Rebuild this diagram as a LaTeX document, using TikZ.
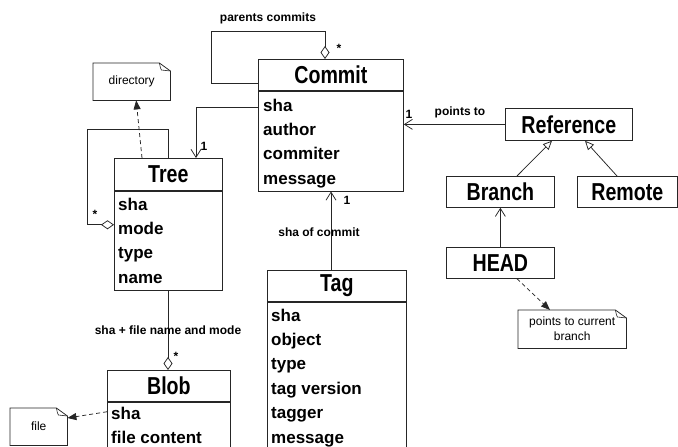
\documentclass[tikz,border=0pt]{standalone}
\usepackage{fontspec}
\setmainfont{Liberation Sans}
\newfontfamily\condfont{Liberation Sans}[FakeStretch=0.8]
\usetikzlibrary{arrows.meta,calc}
\tikzset{
  ln/.style={line width=0.75pt, draw=black!85},
  hdr/.style={ln, draw, inner sep=0pt, minimum height=31pt, anchor=north west,
    font=\condfont\bfseries\fontsize{24.5}{26}\selectfont},
  attrbox/.style={ln, draw, inner sep=0pt, anchor=north},
  attrtxt/.style={inner sep=0pt, align=left, anchor=north west,
    font=\bfseries\fontsize{17}{24.4}\selectfont},
  notetxt/.style={inner sep=0pt, anchor=north west, align=center,
    font=\fontsize{12}{15}\selectfont},
  lbl/.style={inner sep=0pt, font=\bfseries\fontsize{12}{14}\selectfont},
  openv/.style={ln, -{Straight Barb[length=8pt,width=10pt,line width=0.75pt]}},
  opentri/.style={ln, -{Triangle[open,length=9pt,width=8pt,line width=0.75pt]}},
  diamstart/.style={ln, {Diamond[open,length=13pt,width=9pt,line width=0.75pt]}-},
  diamend/.style={ln, -{Diamond[open,length=13pt,width=9pt,line width=0.75pt]}},
  dasharrow/.style={ln, dash pattern=on 4pt off 3pt, -{Triangle[length=9pt,width=7pt]}},
}
\begin{document}
\begin{tikzpicture}[x=1pt,y=-1pt]
\clip (0,0) rectangle (678,447);
\fill[white] (0,0) rectangle (678,447);

% ---- Commit
\node[hdr, minimum width=145pt] (commit) at (258,59) {Commit};
\node[attrbox, minimum width=145pt, minimum height=100pt] (commitA) at (commit.south) {};
\node[attrtxt] (commitT) at ([xshift=5pt,yshift=-3pt]commitA.north west)
  {\strut sha\\author\\commiter\\message};

% ---- Tree
\node[hdr, minimum width=108pt, minimum height=32pt] (tree) at (114,158) {Tree};
\node[attrbox, minimum width=108pt, minimum height=99pt] (treeA) at (tree.south) {};
\node[attrtxt] (treeT) at ([xshift=4pt,yshift=-2pt]treeA.north west)
  {\strut sha\\mode\\type\\name};

% ---- Blob
\node[hdr, minimum width=123pt] (blob) at (107,370) {Blob};
\node[attrbox, minimum width=123pt, minimum height=70pt] (blobA) at (blob.south) {};
\node[attrtxt] (blobT) at ([xshift=4pt,yshift=-0.5pt]blobA.north west)
  {\strut sha\\file content};

% ---- Tag
\node[hdr, minimum width=139pt] (tag) at (267,270) {Tag};
\node[attrbox, minimum width=139pt, minimum height=170pt] (tagA) at (tag.south) {};
\node[attrtxt] (tagT) at ([xshift=4pt,yshift=-2pt]tagA.north west)
  {\strut sha\\object\\type\\tag version\\tagger\\message};

% ---- References
\node[hdr, minimum width=127pt, minimum height=32pt] (ref) at (505,108) {Reference};
\node[hdr, minimum width=108pt] (branch) at (446,176) {Branch};
\node[hdr, minimum width=100pt] (remote) at (577,176) {Remote};
\node[hdr, minimum width=108pt] (head) at (446,247) {HEAD};

% ---- Notes
\node[notetxt, minimum width=77pt, minimum height=37pt] (dir) at (93,63) {directory};
\node[notetxt, minimum width=57pt, minimum height=37pt] (file) at (10,408) {file};
\node[notetxt, minimum width=108pt, minimum height=38pt] (pnote) at (518,310)
  {points to current\\branch};
\foreach \n in {dir,file,pnote}{
  \draw[ln] (\n.north west) -- ([xshift=-11pt]\n.north east)
    -- ([yshift=-8pt]\n.north east) -- (\n.south east) -- (\n.south west) -- cycle;
  \draw[ln, line width=0.6pt] ([xshift=-11pt]\n.north east)
    .. controls ([xshift=-10pt,yshift=-5pt]\n.north east) .. ([xshift=-9pt,yshift=-7pt]\n.north east)
    -- ([yshift=-8pt]\n.north east);
}

% ---- Connectors
% Commit parents loop
\coordinate (cloop) at (211,31);
\draw[diamstart] ([xshift=67pt]commit.north west) |- (cloop) |- ([yshift=-24pt]commit.north west);
\node[lbl] (lparents) at (268,18) {parents commits};
\node[lbl] (lstar1) at (339,48) {*};

% Commit -> Tree
\draw[openv] ([yshift=-17pt]commitA.north west) -| ([xshift=82pt]tree.north west);
\node[lbl] (lone1) at (204,146) {1};

% Tree self loop
\coordinate (tloop) at (87,129);
\draw[diamend] ([xshift=54pt]tree.north west) |- (tloop) |- ([yshift=-34pt]treeA.north west);
\node[lbl] (lstar2) at (95,214) {*};

% Tree -> directory
\draw[dasharrow] ([xshift=28pt]tree.north west) -- ([xshift=4.5pt]dir.south);

% Tree -> Blob
\coordinate (treeb) at ([xshift=54pt]treeA.south west);
\draw[diamend] (treeb) -- (treeb |- blob.north);
\node[lbl] (lsha) at (168,330) {sha + file name and mode};
\node[lbl] (lstar3) at (176,356) {*};

% Blob -> file
\draw[dasharrow] ([yshift=-10pt]blobA.north west) -- ([yshift=-10pt]file.north east);

% Tag -> Commit
\coordinate (tagc) at ([xshift=64pt]tag.north west);
\draw[openv] (tagc) -- (tagc |- commitA.south);
\node[lbl] (lone2) at (347,200) {1};
\node[lbl] (lshaof) at (319,232) {sha of commit};

% Reference -> Commit
\draw[openv] (ref.west) -- (ref.west -| commitA.east);
\node[lbl] (lone3) at (409,114) {1};
\node[lbl] (lpoints) at (460,112) {points to};

% Branch, Remote -> Reference
\draw[opentri] ([xshift=71pt]branch.north west) -- ([xshift=47pt]ref.south west);
\draw[opentri] ([xshift=40pt]remote.north west) -- ([xshift=80pt]ref.south west);

% HEAD -> Branch
\draw[openv] (head.north) -- (branch.south);

% HEAD -> note
\draw[dasharrow] ([xshift=71pt]head.south west) -- ([xshift=32pt]pnote.north west);
\end{tikzpicture}
\end{document}
